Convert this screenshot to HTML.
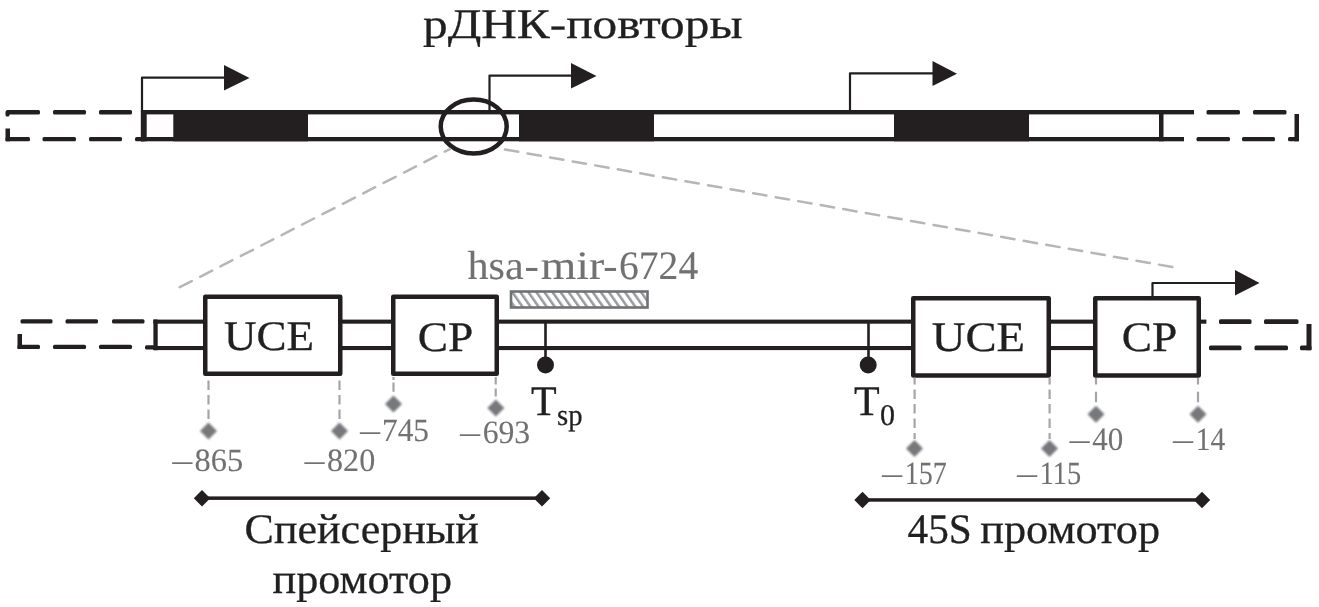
<!DOCTYPE html>
<html lang="ru">
<head>
<meta charset="utf-8">
<title>рДНК-повторы</title>
<style>
html,body{margin:0;padding:0;background:#fff;}
body{width:1319px;height:607px;overflow:hidden;}
svg{display:block;}
text{font-family:"Liberation Serif","DejaVu Serif",serif;text-rendering:geometricPrecision;}
.tx{filter:grayscale(1);}
.k{fill:#231f20;stroke:#231f20;stroke-width:0.3;}
.g{fill:#6f7174;stroke:#6f7174;stroke-width:0.1;}
</style>
</head>
<body>
<svg width="1319" height="607" viewBox="0 0 1319 607">
<defs>
<pattern id="hatch" patternUnits="userSpaceOnUse" width="6.6" height="9" patternTransform="rotate(-35)">
<rect x="0" y="0" width="2.5" height="9" fill="#97999c"/>
</pattern>
<filter id="soft" x="-20%" y="-20%" width="140%" height="140%"><feGaussianBlur stdDeviation="0.8"/></filter>
</defs>
<rect width="1319" height="607" fill="#fff"/>

<!-- ===== top bar ===== -->
<g id="topbar" fill="#231f20" stroke="none">
  <!-- left dashed -->
  <rect x="6" y="110" width="34" height="4.400" rx="1.500"/>
  <rect x="53" y="110" width="33" height="4.400" rx="1.500"/>
  <rect x="99" y="110" width="33" height="4.400" rx="1.500"/>
  <rect x="5.500" y="110.500" width="4" height="6" rx="1.500"/>
  <rect x="5.500" y="128.500" width="4.500" height="12.800"/>
  <rect x="5.500" y="137" width="24.500" height="4.300" rx="1.500"/>
  <rect x="42.500" y="137" width="33.500" height="4.300" rx="1.500"/>
  <rect x="89" y="137" width="33" height="4.300" rx="1.500"/>
  <rect x="135" y="137" width="10" height="4.300" rx="1.500"/>
  <!-- solid bar -->
  <rect x="141" y="110" width="1053" height="4.400"/>
  <rect x="141" y="137" width="1043" height="4.300"/>
  <rect x="140.800" y="110" width="5.900" height="31.300"/>
  <rect x="173.300" y="110" width="134.700" height="31.300"/>
  <rect x="519" y="110" width="135" height="31.300"/>
  <rect x="894" y="110" width="135" height="31.300"/>
  <rect x="1159" y="110" width="4.500" height="31.300"/>
  <!-- right dashed -->
  <rect x="1206.500" y="110" width="33.500" height="4.400" rx="1.500"/>
  <rect x="1253" y="110" width="33.500" height="4.400" rx="1.500"/>
  <rect x="1294.500" y="114" width="4.500" height="27.300"/>
  <rect x="1196.500" y="137" width="33.500" height="4.300" rx="1.500"/>
  <rect x="1242" y="137" width="33" height="4.300" rx="1.500"/>
  <rect x="1288" y="137" width="11" height="4.300" rx="1.500"/>
</g>

<!-- arrows top -->
<g fill="none" stroke="#231f20" stroke-width="2.200" stroke-linejoin="round">
  <path d="M142 111V77.700H226"/>
  <path d="M489.500 111V75.700H573"/>
  <path d="M850 111V73.400H934"/>
</g>
<g fill="#231f20">
  <path d="M224 65L249.500 78L224 90.500Z"/>
  <path d="M571 63L596.500 76L571 88.500Z"/>
  <path d="M932.500 61L957 73.700L932.500 86Z"/>
  <path d="M1235 270L1259.500 283L1235 295.500Z"/>
</g>

<!-- circle -->
<ellipse cx="473.700" cy="126.500" rx="33" ry="27" fill="none" stroke="#231f20" stroke-width="4.500"/>

<!-- gray zoom lines -->
<g fill="none" stroke="#b4b6b9" stroke-width="2.500" stroke-linecap="round" stroke-dasharray="13.5 9.4">
  <path d="M179.700 287.200L450 149"/>
  <path d="M505 149.500L1173 267.100"/>
</g>

<!-- ===== lower bar ===== -->
<g id="lowbar" fill="#231f20">
  <!-- left dashes -->
  <rect x="20.500" y="319.200" width="32" height="4.300" rx="1.500"/>
  <rect x="65.500" y="319.200" width="32.500" height="4.300" rx="1.500"/>
  <rect x="112" y="319.200" width="32.500" height="4.300" rx="1.500"/>
  <rect x="17.500" y="334" width="4.500" height="15"/>
  <rect x="17.500" y="344.800" width="22.500" height="4.300" rx="1.500"/>
  <rect x="53" y="344.800" width="33" height="4.300" rx="1.500"/>
  <rect x="99" y="344.800" width="33" height="4.300" rx="1.500"/>
  <rect x="145" y="345.300" width="10" height="4.300" rx="1.500"/>
  <!-- solid -->
  <rect x="153.400" y="319.600" width="1053" height="4.100"/>
  <rect x="153.400" y="346" width="1045" height="4.100"/>
  <rect x="153.400" y="319.500" width="4.300" height="30.700"/>
  <!-- right dashes -->
  <rect x="1219" y="319.300" width="32.500" height="4.600" rx="1.500"/>
  <rect x="1264" y="319.300" width="34.500" height="4.600" rx="1.500"/>
  <rect x="1306.500" y="324" width="5" height="26.200"/>
  <rect x="1209" y="345.600" width="32.500" height="4.600" rx="1.500"/>
  <rect x="1254.500" y="345.600" width="33.500" height="4.600" rx="1.500"/>
  <rect x="1300" y="345.600" width="11.500" height="4.600" rx="1.500"/>
</g>
<!-- boxes -->
<g fill="#fff" stroke="#231f20" stroke-width="4.500" stroke-linejoin="round">
  <rect x="205.250" y="296.700" width="135" height="77"/>
  <rect x="393.250" y="296.700" width="103.500" height="77"/>
  <rect x="913.250" y="298.250" width="135.500" height="77.300"/>
  <rect x="1095.250" y="298.250" width="103.500" height="77.300"/>
</g>
<!-- arrow 4 stem on top of box -->
<path d="M1152.500 297V283H1237" fill="none" stroke="#231f20" stroke-width="2.200" stroke-linejoin="round"/>

<!-- terminators -->
<g fill="#231f20">
  <rect x="544.200" y="322" width="2.600" height="40"/>
  <circle cx="545.500" cy="365" r="8.500"/>
  <rect x="867.200" y="322" width="2.600" height="40"/>
  <circle cx="868.200" cy="365" r="8.500"/>
</g>

<!-- hatched mir box -->
<rect x="511" y="291.500" width="136.500" height="16" fill="#fff"/>
<rect x="511" y="291.500" width="136.500" height="16" fill="url(#hatch)"/>
<rect x="511" y="291.500" width="136.500" height="16" fill="none" stroke="#6f7174" stroke-width="2.600"/>

<!-- gray droplines -->
<g fill="none" stroke="#a3a5a8" stroke-width="2.200" stroke-dasharray="9.5 5">
  <path d="M208.500 380.600V421"/>
  <path d="M339.500 380.600V421"/>
  <path d="M914.600 389.600V439"/>
  <path d="M1049.600 389.600V439"/>
  <path d="M914.600 377.500V384.600"/>
  <path d="M1049.600 377.500V384.600"/>
</g>
<g fill="none" stroke="#a3a5a8" stroke-width="2.200">
  <path d="M393.500 377V380M393.500 382.500V391.700"/>
  <path d="M495.700 377V384.500M495.700 388.400V396.400"/>
  <path d="M1096 378V384.500M1096 391.700V402.300"/>
  <path d="M1198 378V384.500M1198 391.700V402.300"/>
</g>
<g fill="#77787b" filter="url(#soft)">
  <path d="M208.500 422.500L217 431L208.500 439.500L200 431Z"/>
  <path d="M339.500 422.500L348 431L339.500 439.500L331 431Z"/>
  <path d="M393.500 395.500L402 404L393.500 412.500L385 404Z"/>
  <path d="M495.800 399.600L504.300 408.100L495.800 416.600L487.300 408.100Z"/>
  <path d="M914.500 440L923 448.500L914.500 457L906 448.500Z"/>
  <path d="M1049.500 440L1058 448.500L1049.500 457L1041 448.500Z"/>
  <path d="M1096 405.700L1104.500 414.200L1096 422.700L1087.500 414.200Z"/>
  <path d="M1198 405.700L1206.500 414.200L1198 422.700L1189.500 414.200Z"/>
</g>

<!-- range lines -->
<g fill="#231f20">
  <rect x="202" y="496.400" width="340" height="3.500"/>
  <path d="M193.800 498.200L202 490L210.200 498.200L202 506.400Z"/>
  <path d="M533.800 498.200L542 490L550.200 498.200L542 506.400Z"/>
  <rect x="862" y="498.200" width="340" height="3.500"/>
  <path d="M854.300 500L862.500 491.800L870.700 500L862.500 508.200Z"/>
  <path d="M1193.800 500L1202 491.800L1210.200 500L1202 508.200Z"/>
</g>

<!-- ===== text ===== -->
<g class="tx">
<g class="k" font-size="42">
  <text x="423" y="38.200" textLength="319.500" lengthAdjust="spacingAndGlyphs">рДНК-повторы</text>
  <text x="224" y="350.300" textLength="90" lengthAdjust="spacingAndGlyphs">UCE</text>
  <text x="417.800" y="350.500" textLength="55.500" lengthAdjust="spacingAndGlyphs">CP</text>
  <text x="931.800" y="350.500" textLength="93.300" lengthAdjust="spacingAndGlyphs">UCE</text>
  <text x="1121.800" y="351" textLength="55.500" lengthAdjust="spacingAndGlyphs">CP</text>
  <text x="244.600" y="543.200" textLength="234.300" lengthAdjust="spacingAndGlyphs">Спейсерный</text>
  <text x="272.500" y="593.200" textLength="179.500" lengthAdjust="spacingAndGlyphs">промотор</text>
  <text y="543.200"><tspan x="907.500" textLength="64.200" lengthAdjust="spacingAndGlyphs">45S</tspan><tspan> </tspan><tspan x="980.200" textLength="180" lengthAdjust="spacingAndGlyphs">промотор</tspan></text>
  <text x="531" y="415">T</text>
  <text x="854" y="415">T</text>
</g>
<g class="k" font-size="30">
  <text x="557" y="425" textLength="25.500" lengthAdjust="spacingAndGlyphs">sp</text>
  <text x="880" y="425">0</text>
</g>
<g class="g" font-size="40.500">
  <text y="279"><tspan x="467.500" textLength="56.200" lengthAdjust="spacingAndGlyphs">hsa</tspan><tspan x="524.600" textLength="14.300" lengthAdjust="spacingAndGlyphs">-</tspan><tspan x="540.800" textLength="63.500" lengthAdjust="spacingAndGlyphs">mir</tspan><tspan x="603.300" textLength="14.300" lengthAdjust="spacingAndGlyphs">-</tspan><tspan x="619" textLength="79.200" lengthAdjust="spacingAndGlyphs">6724</tspan></text>
</g>
<g class="g" font-size="32.500">
  <text y="471"><tspan x="170" dy="2.8" textLength="24.6" lengthAdjust="spacingAndGlyphs">−</tspan><tspan x="194.6" dy="-2.8" textLength="48.6" lengthAdjust="spacingAndGlyphs">865</tspan></text>
  <text y="471"><tspan x="302.2" dy="2.8" textLength="24.6" lengthAdjust="spacingAndGlyphs">−</tspan><tspan x="327" dy="-2.8" textLength="48.2" lengthAdjust="spacingAndGlyphs">820</tspan></text>
  <text y="441"><tspan x="357.7" dy="2.8" textLength="24.6" lengthAdjust="spacingAndGlyphs">−</tspan><tspan x="382" dy="-2.8" textLength="47" lengthAdjust="spacingAndGlyphs">745</tspan></text>
  <text y="443"><tspan x="457.7" dy="2.8" textLength="24.6" lengthAdjust="spacingAndGlyphs">−</tspan><tspan x="482.7" dy="-2.8" textLength="47.5" lengthAdjust="spacingAndGlyphs">693</tspan></text>
  <text y="484"><tspan x="879.7" dy="2.8" textLength="24.6" lengthAdjust="spacingAndGlyphs">−</tspan><tspan x="904.7" dy="-2.8" textLength="42" lengthAdjust="spacingAndGlyphs">157</tspan></text>
  <text y="484"><tspan x="1014.7" dy="2.8" textLength="24.6" lengthAdjust="spacingAndGlyphs">−</tspan><tspan x="1039.7" dy="-2.8" textLength="41.5" lengthAdjust="spacingAndGlyphs">115</tspan></text>
  <text y="450"><tspan x="1067.2" dy="2.8" textLength="24.6" lengthAdjust="spacingAndGlyphs">−</tspan><tspan x="1092.2" dy="-2.8" textLength="31" lengthAdjust="spacingAndGlyphs">40</tspan></text>
  <text y="450"><tspan x="1170.7" dy="2.8" textLength="24.6" lengthAdjust="spacingAndGlyphs">−</tspan><tspan x="1195.7" dy="-2.8" textLength="29.5" lengthAdjust="spacingAndGlyphs">14</tspan></text>
</g>
</g>
</svg>
</body>
</html>
